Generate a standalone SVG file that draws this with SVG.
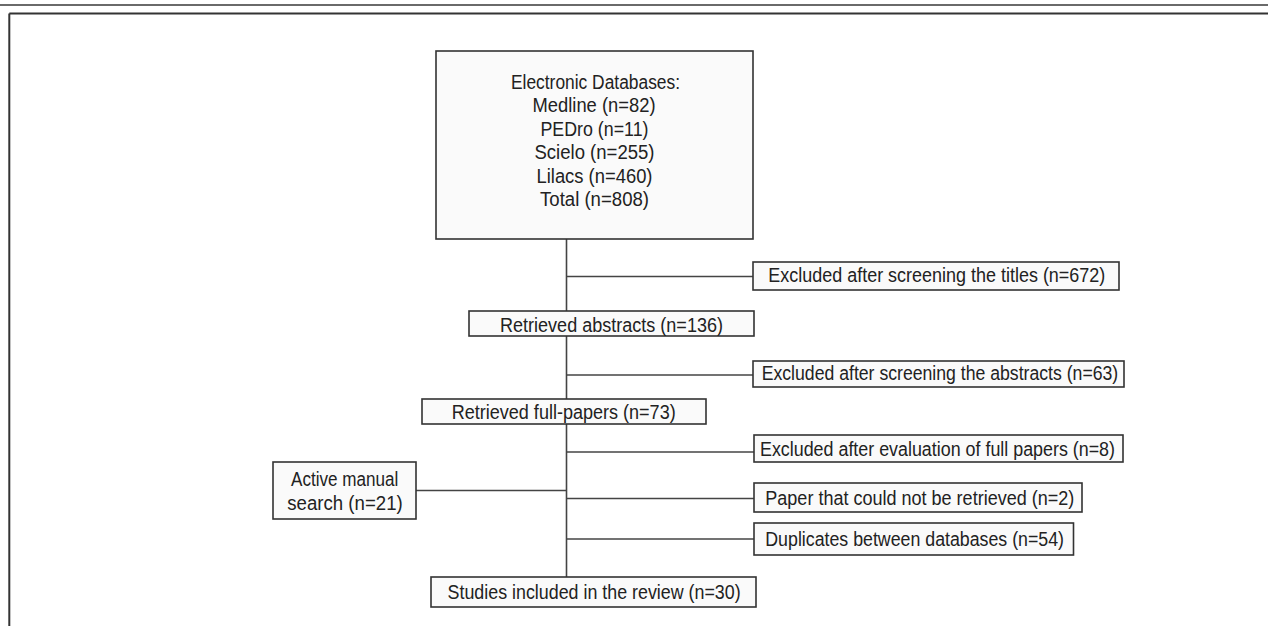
<svg xmlns="http://www.w3.org/2000/svg" width="1268" height="626" viewBox="0 0 1268 626">
<style>
.box{fill:#fafafa;stroke:#333;stroke-width:1.6}
.ln{stroke:#444;stroke-width:1.6;fill:none}
text{font-family:"Liberation Sans",Arial,sans-serif;font-size:19.5px;fill:#222}
</style>
<rect width="1268" height="626" fill="#fff"/>
<g id="frame">
<line x1="0" y1="5" x2="1268" y2="5" stroke="#6a6a6a" stroke-width="2"/>
<line x1="9.3" y1="13.6" x2="1268" y2="13.6" stroke="#333" stroke-width="2"/>
<line x1="9.3" y1="13.6" x2="9.3" y2="626" stroke="#333" stroke-width="2"/>
</g>
<g id="connectors">
<line class="ln" x1="566.5" y1="239" x2="566.5" y2="311"/>
<line class="ln" x1="566.5" y1="336" x2="566.5" y2="399"/>
<line class="ln" x1="566.5" y1="424" x2="566.5" y2="577"/>
<line class="ln" x1="566.5" y1="276.5" x2="753" y2="276.5"/>
<line class="ln" x1="566.5" y1="375" x2="753" y2="375"/>
<line class="ln" x1="566.5" y1="452" x2="754" y2="452"/>
<line class="ln" x1="566.5" y1="498.5" x2="754" y2="498.5"/>
<line class="ln" x1="566.5" y1="539" x2="754" y2="539"/>
<line class="ln" x1="416" y1="490.5" x2="566.5" y2="490.5"/>
</g>
<g id="databases">
<rect class="box" x="436" y="51" width="317" height="188"/>
<text x="511" y="88.5" textLength="169" lengthAdjust="spacingAndGlyphs">Electronic Databases:</text>
<text x="532.5" y="112" textLength="123" lengthAdjust="spacingAndGlyphs">Medline (n=82)</text>
<text x="540.5" y="135.5" textLength="108" lengthAdjust="spacingAndGlyphs">PEDro (n=11)</text>
<text x="534.5" y="159" textLength="120" lengthAdjust="spacingAndGlyphs">Scielo (n=255)</text>
<text x="536.5" y="182.5" textLength="116" lengthAdjust="spacingAndGlyphs">Lilacs (n=460)</text>
<text x="540" y="206" textLength="109" lengthAdjust="spacingAndGlyphs">Total (n=808)</text>
</g>
<g id="excl-titles">
<rect class="box" x="753" y="262" width="366" height="28"/>
<text x="768.3" y="282" textLength="337" lengthAdjust="spacingAndGlyphs">Excluded after screening the titles (n=672)</text>
</g>
<g id="abstracts">
<rect class="box" x="469" y="311" width="285" height="25"/>
<text x="500" y="331.5" textLength="223" lengthAdjust="spacingAndGlyphs">Retrieved abstracts (n=136)</text>
</g>
<g id="excl-abstracts">
<rect class="box" x="753" y="361" width="371" height="26"/>
<text x="761.7" y="380" textLength="356.5" lengthAdjust="spacingAndGlyphs">Excluded after screening the abstracts (n=63)</text>
</g>
<g id="full-papers">
<rect class="box" x="422" y="399" width="284" height="25"/>
<text x="451.7" y="418.5" textLength="224" lengthAdjust="spacingAndGlyphs">Retrieved full-papers (n=73)</text>
</g>
<g id="excl-full">
<rect class="box" x="754" y="435" width="369" height="27"/>
<text x="760" y="456" textLength="355" lengthAdjust="spacingAndGlyphs">Excluded after evaluation of full papers (n=8)</text>
</g>
<g id="manual">
<rect class="box" x="273" y="462" width="143" height="57"/>
<text x="291" y="485.5" textLength="107.3" lengthAdjust="spacingAndGlyphs">Active manual</text>
<text x="287.3" y="509.5" textLength="115.4" lengthAdjust="spacingAndGlyphs">search (n=21)</text>
</g>
<g id="not-retrieved">
<rect class="box" x="754" y="483" width="328" height="29"/>
<text x="765.3" y="504.5" textLength="309" lengthAdjust="spacingAndGlyphs">Paper that could not be retrieved (n=2)</text>
</g>
<g id="duplicates">
<rect class="box" x="754" y="523" width="319.5" height="32"/>
<text x="765.3" y="546" textLength="298.7" lengthAdjust="spacingAndGlyphs">Duplicates between databases (n=54)</text>
</g>
<g id="included">
<rect class="box" x="431" y="577" width="325" height="30"/>
<text x="447.6" y="599" textLength="293" lengthAdjust="spacingAndGlyphs">Studies included in the review (n=30)</text>
</g>
</svg>
